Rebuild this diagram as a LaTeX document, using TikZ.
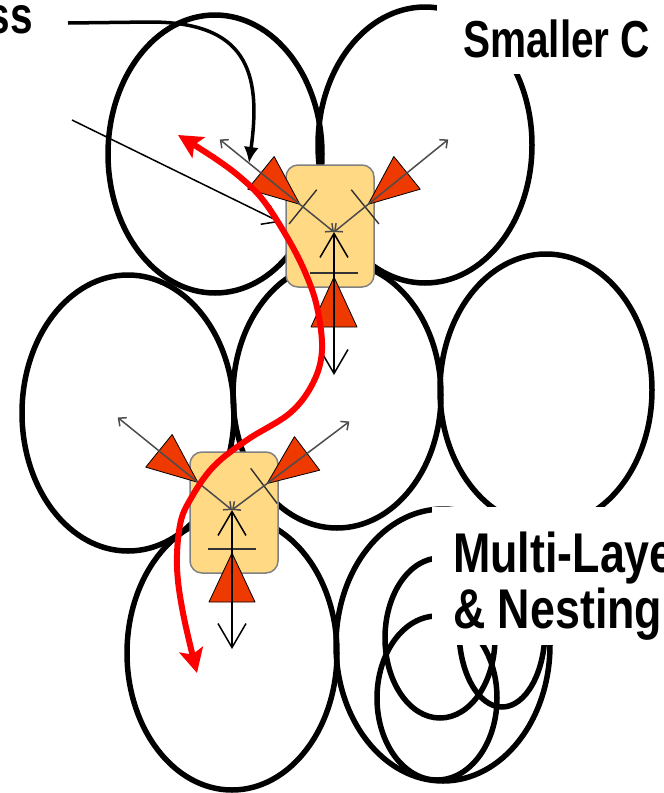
\documentclass[tikz,border=0pt]{standalone}
\usepackage{graphicx}
\usepackage{fontspec}
\newfontfamily\lblfont{Liberation Sans}
\usepackage{tikz}
\usetikzlibrary{arrows.meta}

\definecolor{padfill}{RGB}{255,217,131}
\definecolor{padline}{RGB}{128,128,128}
\definecolor{wedge}{RGB}{238,58,0}

\begin{document}
\begin{tikzpicture}[x=1pt,y=-1pt,
  cell/.style={line width=5.5pt},
  pad/.style={fill=padfill,draw=padline,line width=1.5pt,rounded corners=12pt},
  wedgetri/.style={fill=wedge,draw=black,line width=0.8pt,line join=round},
  tick/.style={line width=1.4pt,draw=black!80},
  link/.style={line width=1.5pt,draw=black!70,{Straight Barb[length=6pt,width=11pt]}-{Straight Barb[length=6pt,width=11pt]}},
  flow/.style={line width=1.5pt,{Straight Barb[length=24pt,width=28pt]}-{Straight Barb[length=24pt,width=28pt]}},
  route/.style={red,line width=6pt,{Stealth[length=24pt,width=24pt,inset=5pt]}-{Stealth[length=24pt,width=24pt,inset=5pt]}},
  lbl/.style={font=\lblfont\bfseries\fontsize{#1}{#1}\selectfont,inner sep=0pt,anchor=base west},
  lbl/.default=52]
\useasboundingbox (0,0) rectangle (664,793);

% cells
\draw[cell] (215,154) ellipse [x radius=107, y radius=139];
\draw[cell] (425,145) ellipse [x radius=107, y radius=138];
\draw[cell] (128,413) ellipse [x radius=106, y radius=138];
\draw[cell] (337,395) ellipse [x radius=104, y radius=133];
\draw[cell] (546,390) ellipse [x radius=106, y radius=136];
\draw[cell] (232,653) ellipse [x radius=105, y radius=137];
\draw[cell] (443,645) ellipse [x radius=107, y radius=136];
% nested cells
\draw[cell] (440,638) ellipse [x radius=55, y radius=80];
\draw[cell] (437,698) ellipse [x radius=60, y radius=82];
\draw[cell] (502,630) ellipse [x radius=43, y radius=77];

% label backgrounds
\fill[white] (437,-5) rectangle (670,74);
\fill[white] (432,507) rectangle (670,645);

% pointers
\coordinate (ssfrom) at (68,23);
\coordinate (sspt) at (249,163);
\draw[line width=3.5pt,-{Latex[length=16pt,width=15pt]}] (ssfrom) -- ++(82,-1) .. controls (245,22) and (262,70) .. (sspt);
\coordinate (thinfrom) at (72,120);
\coordinate (thinpt) at (280,222);
\draw[line width=1.5pt,-{Straight Barb[length=15pt,width=21pt]}] (thinfrom) -- (thinpt);

% upper junction
\begin{scope}[shift={(334,232)}]
\draw[pad] (-48,-67) rectangle (40,55);
\foreach \a in {141,39} {
  \begin{scope}[rotate=\a]
  \draw[wedgetri] (44,0) -- (94,21) -- (94,-21) -- cycle;
  \draw[tick] (40,-22) -- (40,22);
  \draw[link] (0,0) -- (147,0);
  \end{scope}
}
\begin{scope}[rotate=-90]
\draw[wedgetri] (45,0) -- (95,23) -- (95,-23) -- cycle;
\draw[tick] (41,-24) -- (41,24);
\draw[flow] (0,0) -- (143,0);
\end{scope}
\end{scope}

% lower junction
\begin{scope}[shift={(232,510)}]
\draw[pad] (-42,-58) rectangle (46,63);
\foreach \a in {141,37} {
  \begin{scope}[rotate=\a]
  \draw[wedgetri] (44,0) -- (94,21) -- (94,-21) -- cycle;
  \draw[tick] (40,-22) -- (40,22);
  \draw[link] (0,0) -- (147,0);
  \end{scope}
}
\begin{scope}[rotate=-90]
\draw[wedgetri] (43,0) -- (92,23) -- (92,-23) -- cycle;
\draw[tick] (39,-24) -- (39,24);
\draw[flow] (0,0) -- (139,0);
\end{scope}
\end{scope}

% path through both junctions
\draw[route] plot[smooth,tension=0.6] coordinates {(178,135) (213,157) (240,177) (263,200) (287,237) (305,272) (317,307) (322,350) (313,383) (290,413) (247,440) (213,467) (190,500) (180,525) (177,567) (183,613) (197,673)};

% labels
\node[lbl, anchor=base east] (ss) at (33,33) {\scalebox{0.78}[1]{ss}};
\node[lbl] (smaller) at (463,57) {\scalebox{0.78}[1]{Smaller\hspace{14pt}C}};
\node[lbl=56] (layer) at (453,572) {\scalebox{0.8}[1]{Multi-Laye}};
\node[lbl=56] (nesting) at (453,628) {\scalebox{0.8}[1]{\& Nesting}};
\end{tikzpicture}
\end{document}
